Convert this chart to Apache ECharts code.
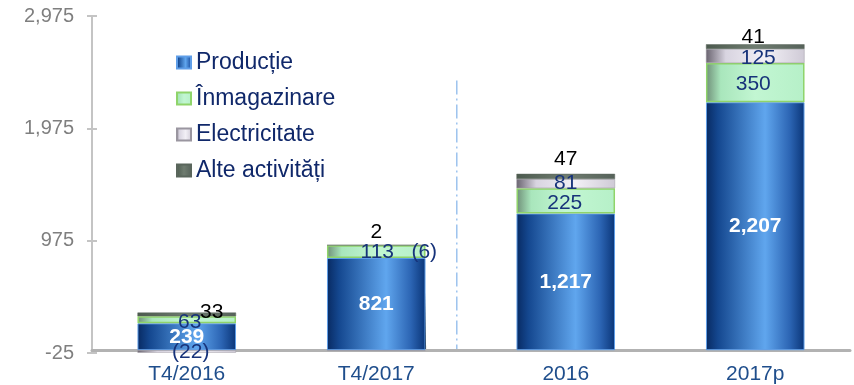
<!DOCTYPE html>
<html>
<head>
<meta charset="utf-8">
<script src="https://cdn.jsdelivr.net/npm/echarts@6/dist/echarts.min.js"></script>
<style>
  html, body { margin: 0; padding: 0; background: #fff; }
  #chart { width: 854px; height: 385px; }
</style>
</head>
<body>
<div id="chart"></div>
<script>
// Investment breakdown by segment
const categories = ['T4/2016', 'T4/2017', '2016', '2017p'];
const productie = [239, 821, 1217, 2207];
const inmagazinare = [63, 113, 225, 350];
const electricitate = [-22, -6, 81, 125];
const alteActivitati = [33, 2, 47, 41];
const yMin = -25;
const yMax = 2975;
const yStep = 1000;

const FONT = '"Liberation Sans", Arial, sans-serif';
const NAVY = '#17337a';
const VALUE_SIZE = 21;

function fmt(v) {
  const s = Math.abs(v).toLocaleString('en-US');
  return v < 0 ? '(' + s + ')' : s;
}

// per-item label nudges (pixels) from the centre of each segment
const inmagazinareOffsets = [[3, 2], [1, 1], [-1, 2], [-2, 2]];
const electricitateOffsets = [[4, 1], [48, -98], [0, 0], [3, 2]];
const alteOffsets = [[25, -2], [0, -13], [0, -17], [-2, -9]];

function withOffsets(values, offsets) {
  return values.map((v, i) => ({ value: v, label: { offset: offsets[i] } }));
}

const grad = (stops) => new echarts.graphic.LinearGradient(0, 0, 1, 0,
  stops.map(([o, c]) => ({ offset: o, color: c })));

const chart = echarts.init(document.getElementById('chart'), null, { renderer: 'canvas' });

const valueLabel = (color, extra) => Object.assign({
  show: true, position: 'inside', color: color, fontSize: VALUE_SIZE,
  fontFamily: FONT, formatter: (p) => fmt(p.value)
}, extra || {});

const tickStyle = { color: '#c4c4c4', width: 2 };

chart.setOption({
  animation: false,
  textStyle: { fontFamily: FONT },
  grid: { left: 92, right: 4, top: 16, bottom: 32, containLabel: false },
  legend: {
    orient: 'vertical',
    left: 171,
    top: 46,
    itemGap: 13,
    itemWidth: 14,
    itemHeight: 12,
    icon: 'rect',
    textStyle: { fontFamily: FONT, fontSize: 23, color: '#10286a' },
    data: ['Producție', 'Înmagazinare', 'Electricitate', 'Alte activități']
  },
  xAxis: {
    type: 'category',
    data: categories,
    axisLine: { lineStyle: { color: '#b2b2b2', width: 3 } },
    axisTick: { show: false },
    axisLabel: { color: '#1f4e8c', fontSize: 21, margin: 11, fontFamily: FONT }
  },
  yAxis: [
    {
      type: 'value',
      min: yMin,
      max: yMax,
      interval: yStep,
      splitLine: { show: false },
      axisLine: { show: true, lineStyle: { color: '#c4c4c4', width: 2 } },
      axisTick: { show: true, length: 5, lineStyle: tickStyle },
      axisLabel: {
        color: '#7f7f7f',
        fontSize: 20,
        margin: 18,
        fontFamily: FONT,
        formatter: (v) => v.toLocaleString('en-US')
      }
    },
    {
      // inner half of the cross-shaped ticks
      type: 'value',
      position: 'left',
      min: yMin,
      max: yMax,
      interval: yStep,
      splitLine: { show: false },
      axisLine: { show: false },
      axisLabel: { show: false },
      axisTick: { show: true, inside: true, length: 5, lineStyle: tickStyle }
    }
  ],
  series: [
    {
      name: 'Producție',
      type: 'bar',
      stack: 'total',
      barWidth: '52%',
      data: productie,
      itemStyle: {
        color: grad([[0, '#082a62'], [0.12, '#14478f'], [0.6, '#60a6ee'], [0.85, '#2c65b4'], [1, '#0a3578']]),
        borderColor: '#5f9ee8',
        borderWidth: 1
      },
      label: valueLabel('#fff', { fontWeight: 'bold' })
    },
    {
      name: 'Înmagazinare',
      type: 'bar',
      stack: 'total',
      data: withOffsets(inmagazinare, inmagazinareOffsets),
      itemStyle: {
        color: grad([[0, '#6f8f78'], [0.15, '#a9e6bc'], [0.5, '#c2f6d2'], [1, '#b6f0c8']]),
        borderColor: '#8fd46a',
        borderWidth: 1.5
      },
      label: valueLabel(NAVY)
    },
    {
      name: 'Electricitate',
      type: 'bar',
      stack: 'total',
      data: withOffsets(electricitate, electricitateOffsets),
      itemStyle: {
        color: grad([[0, '#6a6470'], [0.2, '#d8d4e0'], [0.6, '#f2f0f6'], [1, '#cfcad6']]),
        borderColor: '#9a96a0',
        borderWidth: 0.5
      },
      label: valueLabel(NAVY)
    },
    {
      name: 'Alte activități',
      type: 'bar',
      stack: 'total',
      data: withOffsets(alteActivitati, alteOffsets),
      itemStyle: {
        color: grad([[0, '#4c5a4e'], [0.5, '#6f7c70'], [1, '#56625a']]),
        borderColor: '#5a665c',
        borderWidth: 0.5
      },
      label: valueLabel('#000')
    }
  ]
});

// Separator between quarterly and annual figures, plus the edge stroke on the T4/2017 bar
const xQ = chart.convertToPixel({ xAxisIndex: 0 }, 'T4/2017');
const xY = chart.convertToPixel({ xAxisIndex: 0 }, '2016');
const yTop = chart.convertToPixel({ yAxisIndex: 0 }, 2400);
const yBase = chart.convertToPixel({ yAxisIndex: 0 }, yMin);
const yZero = chart.convertToPixel({ yAxisIndex: 0 }, 0);
const yMid = chart.convertToPixel({ yAxisIndex: 0 }, productie[1] * 0.85);
const sepX = xQ + 0.425 * (xY - xQ);
const band = xY - xQ;
chart.setOption({
  graphic: [
    {
      type: 'line',
      silent: true,
      shape: { x1: sepX, y1: yTop, x2: sepX, y2: yBase - 2 },
      style: { stroke: '#9cc3ee', lineWidth: 1.5, lineDash: [14, 4, 2, 4] }
    },
    {
      type: 'line',
      silent: true,
      shape: { x1: xQ + band * 0.25, y1: yMid, x2: xQ + band * 0.258, y2: yZero + 1 },
      style: { stroke: '#000', lineWidth: 2 }
    }
  ]
});
</script>
</body>
</html>
